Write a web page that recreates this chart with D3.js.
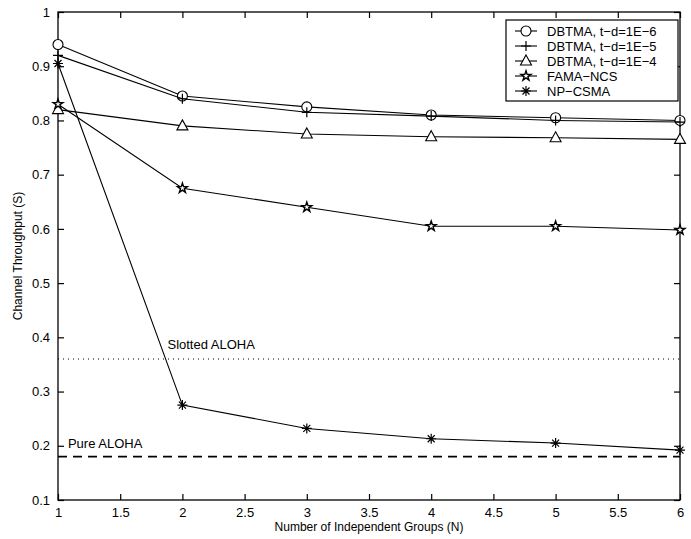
<!DOCTYPE html>
<html>
<head>
<meta charset="utf-8">
<script src="https://cdn.jsdelivr.net/npm/d3@7"></script>
<style>
  body { margin: 0; background: #fff; }
  svg { font-family: "Liberation Sans", Arial, sans-serif; }
</style>
</head>
<body>
<svg id="chart" width="691" height="539"></svg>
<script>
const groups = [1, 2, 3, 4, 5, 6];
const dbtma6 = [0.94, 0.845, 0.825, 0.81, 0.805, 0.80];
const dbtma5 = [0.92, 0.84, 0.815, 0.808, 0.80, 0.797];
const dbtma4 = [0.82, 0.79, 0.775, 0.77, 0.768, 0.765];
const famaNcs = [0.83, 0.675, 0.64, 0.605, 0.605, 0.598];
const npCsma = [0.905, 0.275, 0.232, 0.213, 0.205, 0.192];
const slottedAloha = 0.36;
const pureAloha = 0.18;
const xTicks = [1, 1.5, 2, 2.5, 3, 3.5, 4, 4.5, 5, 5.5, 6];
const yTicks = [0.1, 0.2, 0.3, 0.4, 0.5, 0.6, 0.7, 0.8, 0.9, 1];

const series = [
  {name: 'DBTMA, t\u2212d=1E\u22126', values: dbtma6, marker: 'circle'},
  {name: 'DBTMA, t\u2212d=1E\u22125', values: dbtma5, marker: 'plus'},
  {name: 'DBTMA, t\u2212d=1E\u22124', values: dbtma4, marker: 'triangle'},
  {name: 'FAMA\u2212NCS', values: famaNcs, marker: 'star'},
  {name: 'NP\u2212CSMA', values: npCsma, marker: 'asterisk'}
];

const m = {left: 58, right: 11, top: 12, bottom: 39};
const W = 691, H = 539;
const iw = W - m.left - m.right, ih = H - m.top - m.bottom;

const svg = d3.select('#chart');
const g = svg.append('g').attr('transform', `translate(${m.left},${m.top})`);

const x = d3.scaleLinear().domain([1, 6]).range([0, iw]);
const y = d3.scaleLinear().domain([0.1, 1]).range([ih, 0]);

// box
g.append('rect')
  .attr('width', iw).attr('height', ih)
  .attr('fill', 'none').attr('stroke', '#000').attr('stroke-width', 1.3);

// axes with inward ticks
const fmt = d => String(d);
const tick = 6;
const axB = g.append('g').attr('transform', `translate(0,${ih})`)
  .call(d3.axisBottom(x).tickValues(xTicks).tickSize(-tick).tickPadding(8).tickFormat(fmt));
const axT = g.append('g')
  .call(d3.axisTop(x).tickValues(xTicks).tickSize(-tick).tickFormat(''));
const axL = g.append('g')
  .call(d3.axisLeft(y).tickValues(yTicks).tickSize(-tick).tickPadding(8).tickFormat(fmt));
const axR = g.append('g').attr('transform', `translate(${iw},0)`)
  .call(d3.axisRight(y).tickValues(yTicks).tickSize(-tick).tickFormat(''));
[axB, axT, axL, axR].forEach(a => {
  a.select('.domain').remove();
  a.selectAll('line').attr('stroke', '#000').attr('stroke-width', 1.2);
  a.selectAll('text').attr('fill', '#000').style('font-size', '13px').style('font-family', '"Liberation Sans", Arial, sans-serif');
});

// reference lines
g.append('line')
  .attr('x1', 0).attr('x2', iw).attr('y1', y(slottedAloha)).attr('y2', y(slottedAloha))
  .attr('stroke', '#000').attr('stroke-width', 1).attr('stroke-dasharray', '1,4');
g.append('line')
  .attr('x1', 0).attr('x2', iw).attr('y1', y(pureAloha)).attr('y2', y(pureAloha))
  .attr('stroke', '#000').attr('stroke-width', 1.6).attr('stroke-dasharray', '9,6');
g.append('text').attr('x', x(1.88)).attr('y', y(slottedAloha) - 10)
  .style('font-size', '13px').text('Slotted ALOHA');
g.append('text').attr('x', x(1.08)).attr('y', y(pureAloha) - 9)
  .style('font-size', '13px').text('Pure ALOHA');

// marker drawing
function drawMarker(sel, type) {
  const s = 5;
  if (type === 'circle') {
    sel.append('circle').attr('r', s).attr('fill', '#fff').attr('stroke', '#000').attr('stroke-width', 1.1);
  } else if (type === 'plus') {
    sel.append('path').attr('d', `M${-s},0H${s}M0,${-s}V${s}`).attr('stroke', '#000').attr('stroke-width', 1.2);
  } else if (type === 'triangle') {
    sel.append('path').attr('d', `M0,${-s - 1}L${s + 0.5},${s - 1}L${-s - 0.5},${s - 1}Z`)
      .attr('fill', '#fff').attr('stroke', '#000').attr('stroke-width', 1.1);
  } else if (type === 'star') {
    sel.append('path').attr('d', d3.symbol(d3.symbolStar, 30)())
      .attr('fill', '#fff').attr('stroke', '#000').attr('stroke-width', 1.4);
  } else if (type === 'asterisk') {
    const r = 5;
    sel.append('path')
      .attr('d', `M${-r},0H${r}M0,${-r}V${r}M${-r * 0.7},${-r * 0.7}L${r * 0.7},${r * 0.7}M${-r * 0.7},${r * 0.7}L${r * 0.7},${-r * 0.7}`)
      .attr('stroke', '#000').attr('stroke-width', 1.2);
  }
}

const line = d3.line().x((d, i) => x(groups[i])).y(d => y(d));
series.forEach(s => {
  g.append('path').datum(s.values).attr('d', line)
    .attr('fill', 'none').attr('stroke', '#000').attr('stroke-width', 1.1);
  g.selectAll(null).data(s.values).join('g')
    .attr('transform', (d, i) => `translate(${x(groups[i])},${y(d)})`)
    .each(function() { drawMarker(d3.select(this), s.marker); });
});

// legend
const lg = svg.append('g').attr('transform', 'translate(506,20)');
lg.append('rect').attr('width', 172).attr('height', 81)
  .attr('fill', '#fff').attr('stroke', '#000').attr('stroke-width', 1.2);
series.forEach((s, i) => {
  const row = lg.append('g').attr('transform', `translate(0,${11 + i * 15})`);
  row.append('line').attr('x1', 9).attr('x2', 31).attr('stroke', '#000').attr('stroke-width', 1.1);
  drawMarker(row.append('g').attr('transform', 'translate(20,0)'), s.marker);
  row.append('text').attr('x', 41).attr('dy', '0.36em').style('font-size', '13px').text(s.name);
});

// axis labels
svg.append('text').attr('x', m.left + iw / 2).attr('y', 531)
  .attr('text-anchor', 'middle').style('font-size', '12px').text('Number of Independent Groups (N)');
svg.append('text').attr('transform', `translate(22,${m.top + ih / 2}) rotate(-90)`)
  .attr('text-anchor', 'middle').style('font-size', '12px').text('Channel Throughput (S)');
</script>
</body>
</html>
